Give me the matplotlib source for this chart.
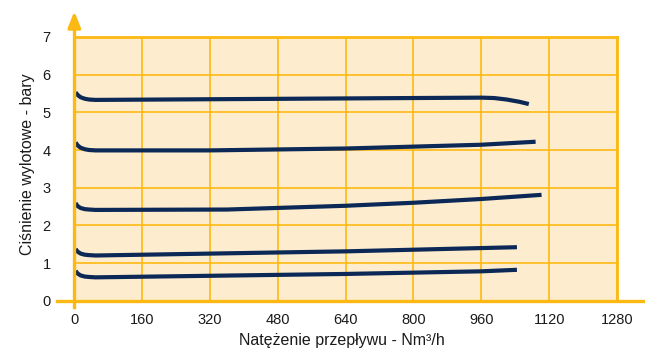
import matplotlib
matplotlib.use("Agg")
import matplotlib.pyplot as plt

plt.rcParams['font.family'] = ['Liberation Sans', 'DejaVu Sans']

x_ticks = [0, 160, 320, 480, 640, 800, 960, 1120, 1280]
y_ticks = [0, 1, 2, 3, 4, 5, 6, 7]

c1_x = [3, 8, 15, 25, 35, 50, 200, 500, 800, 960, 990, 1020, 1050, 1072]
c1_y = [5.53, 5.46, 5.40, 5.36, 5.34, 5.33, 5.34, 5.36, 5.38, 5.39, 5.38, 5.34, 5.28, 5.22]
c2_x = [3, 8, 15, 25, 35, 50, 320, 640, 960, 1088]
c2_y = [4.20, 4.12, 4.06, 4.02, 4.00, 3.99, 3.99, 4.04, 4.14, 4.22]
c3_x = [3, 8, 15, 25, 35, 50, 360, 500, 640, 800, 960, 1102]
c3_y = [2.59, 2.51, 2.46, 2.43, 2.42, 2.41, 2.42, 2.47, 2.52, 2.60, 2.70, 2.81]
c4_x = [3, 8, 15, 25, 35, 50, 640, 1044]
c4_y = [1.37, 1.30, 1.25, 1.22, 1.21, 1.20, 1.31, 1.42]
c5_x = [3, 8, 15, 25, 35, 50, 640, 960, 1044]
c5_y = [0.79, 0.72, 0.67, 0.64, 0.63, 0.62, 0.71, 0.78, 0.82]

orange = '#FDB913'
navy = '#0B2856'

fig = plt.figure(figsize=(6.45, 3.5), dpi=100)
ax = fig.add_axes([74.3/645, 49.3/350, (617-74.3)/645, (300.7-37)/350])
ax.set_facecolor('#FDEDCE')
ax.set_xlim(0, 1280)
ax.set_ylim(0, 7)

for xv in x_ticks:
    ax.axvline(xv, color=orange, lw=1.2, zorder=1)
for yv in y_ticks:
    ax.axhline(yv, color=orange, lw=1.2, zorder=1)

for xs, ys in [(c1_x, c1_y), (c2_x, c2_y), (c3_x, c3_y), (c4_x, c4_y), (c5_x, c5_y)]:
    ax.plot(xs, ys, color=navy, lw=3.0, solid_capstyle='butt',
            solid_joinstyle='round', zorder=3)

for s in ax.spines.values():
    s.set_visible(False)

# Extended axes lines
ax.plot([-41, 1345], [0, 0], color=orange, lw=2.4, clip_on=False, zorder=4)
ax.plot([0, 0], [-0.18, 7.3], color=orange, lw=2.4, clip_on=False, zorder=4)
ax.plot([1280, 1280], [0, 7], color=orange, lw=2.0, clip_on=False, zorder=4)
ax.plot([0, 1280], [7, 7], color=orange, lw=2.0, clip_on=False, zorder=4)
ax.annotate('', xy=(0, 7.68), xytext=(0, 7.2), annotation_clip=False,
            arrowprops=dict(arrowstyle='-|>,head_length=0.95,head_width=0.38',
                            color=orange, lw=2.4, shrinkA=0, shrinkB=0), zorder=5)

ax.set_xticks(x_ticks)
ax.set_xticklabels([str(v) for v in x_ticks])
ax.set_yticks(y_ticks)
ax.set_yticklabels([str(v) for v in y_ticks])
ax.tick_params(axis='both', length=0, labelsize=10.5, colors='#1a1a1a')
ax.tick_params(axis='y', pad=17)
ax.tick_params(axis='x', pad=9)

fig.text(342/645, 1 - 340/350, 'Natężenie przepływu - Nm³/h', fontsize=11.5,
         color='#1a1a1a', ha='center', va='center')
fig.text(28/645, 1 - 164/350, 'Ciśnienie wylotowe - bary', fontsize=11.5,
         color='#1a1a1a', ha='center', va='center', rotation=90)

fig.savefig('out.png', dpi=100)
